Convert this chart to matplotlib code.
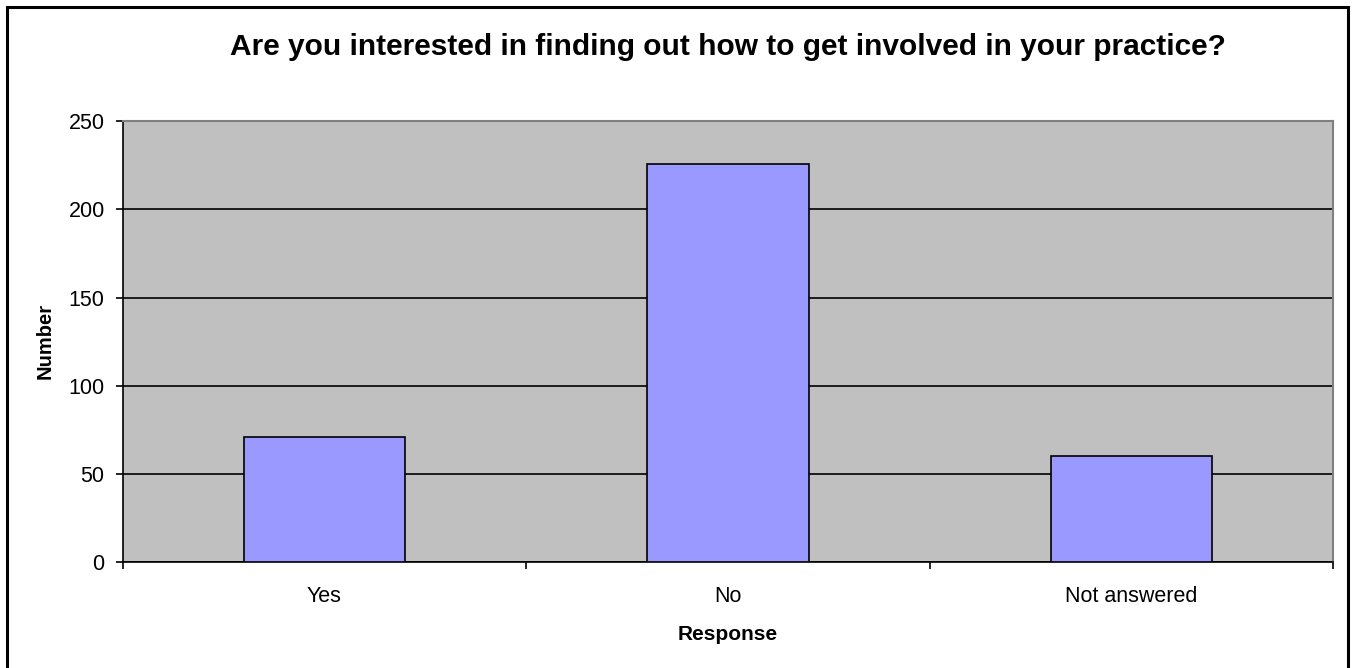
import matplotlib.pyplot as plt
import matplotlib.patches as patches

# Dati
categorie = ['Yes', 'No', 'Not answered']
valori = [71, 226, 60]
y_ticks = [0, 50, 100, 150, 200, 250]

plt.rcParams['font.family'] = ['Liberation Sans', 'DejaVu Sans']

W, H = 1352, 668
fig = plt.figure(figsize=(W / 100, H / 100), dpi=100)
ax = fig.add_axes([122.7 / W, 1 - 562 / H, (1333.3 - 122.7) / W, (562 - 121.3) / H])

# bordo esterno della figura
fig.patches.append(patches.Rectangle((7 / W, -0.01), (1348 - 7) / W, 1.01 - 7 / H,
                                     transform=fig.transFigure, fill=False,
                                     edgecolor='black', linewidth=2.2))

ax.set_facecolor('#C0C0C0')
pos = list(range(len(categorie)))
ax.bar(pos, valori, width=0.4, color='#9999FF', edgecolor='black', linewidth=1.2, zorder=3)

ax.set_xlim(-0.5, len(categorie) - 0.5)
ax.set_ylim(0, 250)
ax.set_yticks(y_ticks)
ax.yaxis.grid(True, color='black', linewidth=1.2, zorder=1)
ax.set_axisbelow(True)

# tick sui confini delle categorie, etichette al centro
ax.set_xticks([p - 0.5 for p in pos] + [len(categorie) - 0.5])
ax.set_xticklabels([])
ax.set_xticks(pos, minor=True)
ax.set_xticklabels(categorie, minor=True)
ax.tick_params(axis='x', which='minor', length=0, pad=17, labelsize=15.5)
ax.tick_params(axis='x', which='major', length=5, width=1.2, direction='out')
ax.tick_params(axis='y', length=5, width=1.2, direction='out', labelsize=15.5, pad=8)

for s in ['left', 'bottom']:
    ax.spines[s].set_color('black')
    ax.spines[s].set_linewidth(1.2)
for s in ['top', 'right']:
    ax.spines[s].set_color('#808080')
    ax.spines[s].set_linewidth(1.5)

fig.text(728 / W, 1 - 55 / H,
         'Are you interested in finding out how to get involved in your practice?',
         ha='center', va='baseline', fontsize=21.5, fontweight='bold')
fig.text(727.5 / W, 1 - 640 / H, 'Response', ha='center', va='baseline',
         fontsize=15, fontweight='bold')
fig.text(45.5 / W, 1 - 341 / H, 'Number', ha='center', va='center', rotation=90,
         fontsize=14.5, fontweight='bold')

fig.savefig('out.png', dpi=100)
